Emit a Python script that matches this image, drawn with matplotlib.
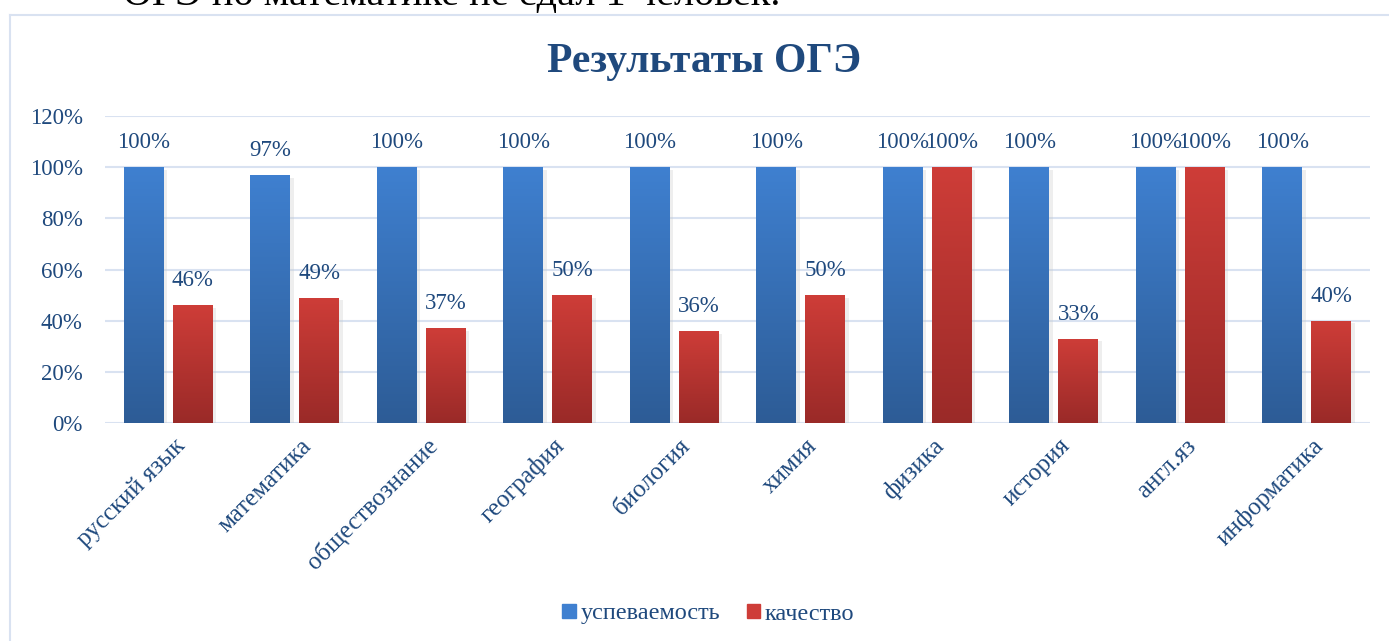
#!/usr/bin/env python3
"""Результаты ОГЭ: grouped bars with gradient fill"""
import numpy as np
import matplotlib
matplotlib.use('agg')
import matplotlib.pyplot as plt
from matplotlib.colors import LinearSegmentedColormap
from matplotlib.patches import Rectangle
from matplotlib.lines import Line2D
import matplotlib.patheffects as pe
import matplotlib.transforms as mtrans

subjects = ['русский язык', 'математика', 'обществознание', 'география', 'биология',
            'химия', 'физика', 'история', 'англ.яз', 'информатика']
uspevaemost = [100, 97, 100, 100, 100, 100, 100, 100, 100, 100]
kachestvo = [46, 49, 37, 50, 36, 50, 100, 33, 100, 40]
series_names = ['успеваемость', 'качество']
y_ticks = [0, 20, 40, 60, 80, 100, 120]

TEXT = '#1f497d'
GRID = '#d9e2f1'
BLUE = ('#3f80d0', '#2d5c96')
RED = ('#ce3d38', '#9a2a28')


def gradient_bars(ax, xpos, vals, width, colors):
    cmap = LinearSegmentedColormap.from_list('g', [colors[1], colors[0]])
    grad = np.linspace(0, 1, 256).reshape(-1, 1)
    bars = ax.bar(xpos, vals, width, color=colors[0], zorder=3,
                  path_effects=[pe.SimplePatchShadow(offset=(2.5, -2), shadow_rgbFace='#c8c8c8', alpha=0.3),
                                pe.Normal()])
    for bar, val in zip(bars, vals):
        x0 = bar.get_x()
        img = ax.imshow(grad, extent=[x0, x0 + width, 0, val], origin='lower',
                        aspect='auto', cmap=cmap, zorder=4)
        img.set_clip_path(bar)
    for x, v in zip(xpos, vals):
        ax.annotate('{}%'.format(v), (x, v), xytext=(0, 10), textcoords='offset points',
                    ha='center', va='bottom', fontsize=16.5, color=TEXT, zorder=6)
    return bars


def main():
    plt.rcParams['font.family'] = ['Liberation Serif', 'DejaVu Serif']
    fig = plt.figure(figsize=(13.89, 6.41), dpi=100)
    W, H = 1389, 641

    # chart frame (partly cut off by the page)
    fig.add_artist(Line2D([10 / W, 10 / W], [0, 1 - 15 / H], color=GRID, lw=1.5))
    fig.add_artist(Line2D([10 / W, 1], [1 - 15 / H, 1 - 15 / H], color=GRID, lw=1.5))
    # cut-off line of document text above the chart
    fig.text(123 / W, 1 - 5 / H, 'ОГЭ по математике не сдал 1 человек.', fontsize=29,
             color='black', ha='left', va='baseline')

    ax = fig.add_axes([105 / W, 1 - 423 / H, (1370 - 105) / W, (423 - 116) / H])
    x = np.arange(len(subjects))
    width = 0.316
    off = 0.194
    gradient_bars(ax, x - off, uspevaemost, width, BLUE)
    gradient_bars(ax, x + off, kachestvo, width, RED)

    ax.set_xlim(-0.5, len(subjects) - 0.5)
    ax.set_ylim(0, 120)
    ax.set_yticks(y_ticks)
    ax.set_yticklabels(['{}%'.format(v) for v in y_ticks], fontsize=16.5, color=TEXT)
    ax.yaxis.grid(True, color=GRID, lw=1.5, zorder=0)
    ax.set_axisbelow(True)
    for s in ax.spines.values():
        s.set_visible(False)
    ax.tick_params(axis='y', length=0, pad=16)
    ax.tick_params(axis='x', length=0, pad=14)
    ax.set_xticks(x)
    labels = ax.set_xticklabels(subjects, fontsize=18, color=TEXT, rotation=45,
                                ha='right', va='center', rotation_mode='anchor')
    shift = mtrans.ScaledTranslation(13 / 100, 0, fig.dpi_scale_trans)
    for lab in labels:
        lab.set_transform(lab.get_transform() + shift)

    fig.text(0.507, 1 - 62 / H, 'Результаты ОГЭ', fontsize=30, fontweight='bold',
             color=TEXT, ha='center', va='center')

    handles = [Rectangle((0, 0), 1, 1, color=BLUE[0]), Rectangle((0, 0), 1, 1, color=RED[0])]
    fig.legend(handles, series_names, loc='center', bbox_to_anchor=(0.510, 1 - 614 / H),
               ncol=2, frameon=False, fontsize=17.5, labelcolor=TEXT, handlelength=0.55,
               handleheight=0.55, handletextpad=0.2, columnspacing=1.1)

    fig.savefig('out.png', dpi=100)


if __name__ == '__main__':
    main()
